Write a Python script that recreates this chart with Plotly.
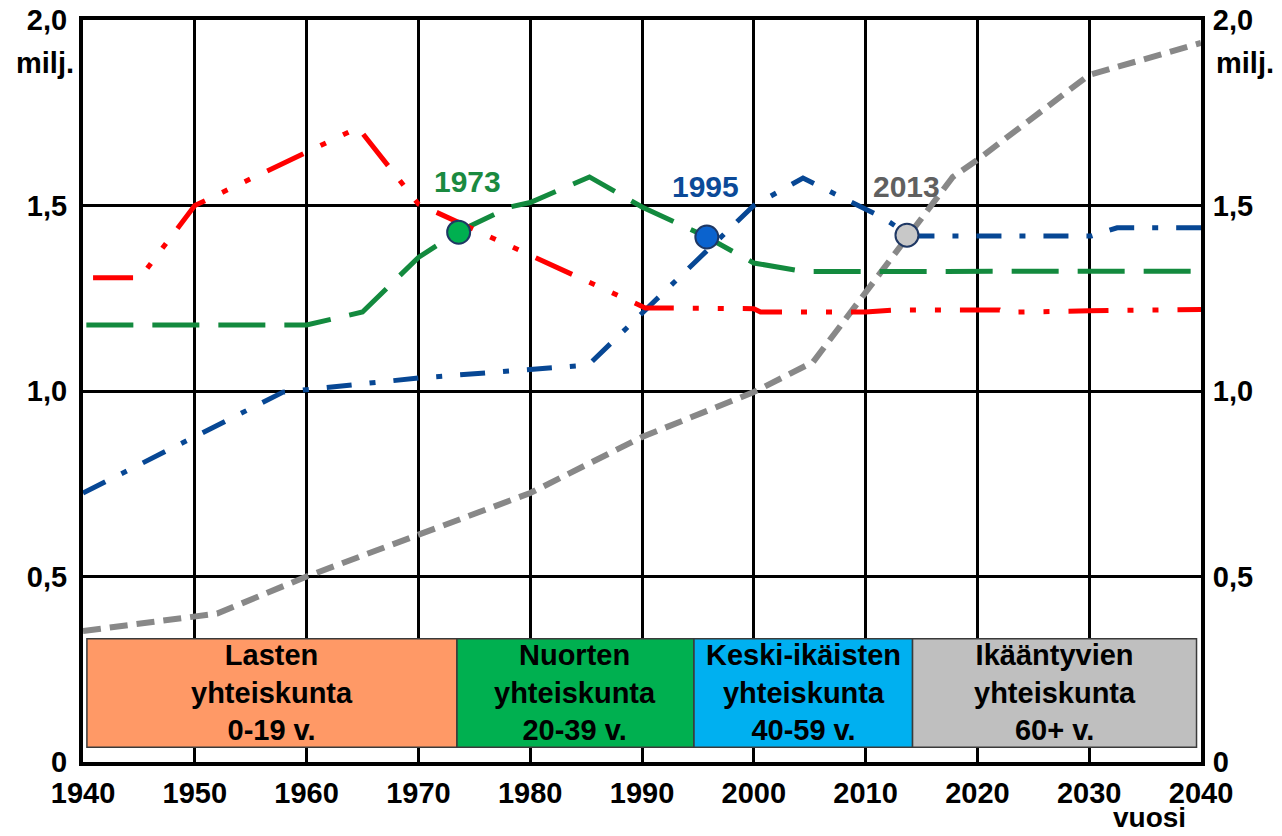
import plotly.graph_objects as go

# ---- data ----
years_red = [1940.9, 1945.1, 1950, 1964.6, 1970, 1973.7, 1990.3, 2000, 2000.6, 2010, 2012.5, 2022, 2022.5, 2030, 2040]
vals_red = [1.305, 1.305, 1.50, 1.71, 1.504, 1.453, 1.224, 1.222, 1.213, 1.213, 1.218, 1.218, 1.212, 1.216, 1.22]

years_green = [1940.3, 1960, 1965, 1970, 1973.6, 1978.2, 1980, 1985.3, 1990, 1995.8, 2000, 2004.5, 2040]
vals_green = [1.178, 1.178, 1.213, 1.36, 1.43, 1.496, 1.508, 1.577, 1.496, 1.415, 1.345, 1.322, 1.323]

years_blue = [1940, 1957.9, 1970, 1985.2, 2000, 2004.4, 2011.6, 2014, 2030.2, 2032.5, 2040]
vals_blue = [0.725, 0.997, 1.035, 1.07, 1.50, 1.574, 1.466, 1.418, 1.418, 1.44, 1.44]

years_gray = [1940, 1950, 1952, 1960, 1970, 1980, 1990, 2000, 2005.3, 2017.8, 2020, 2030, 2040]
vals_gray = [0.353, 0.39, 0.40, 0.50, 0.612, 0.725, 0.876, 0.997, 1.078, 1.577, 1.623, 1.852, 1.938]

marker_years = [1973.6, 1995.8, 2013.7]
marker_vals = [1.428, 1.415, 1.42]
marker_labels = ["1973", "1995", "2013"]
label_years = [1974.4, 1995.7, 2013.7]
label_vals = [1.565, 1.551, 1.551]

box_edges = [1940.35, 1973.45, 1994.65, 2014.2, 2039.6]
box_texts = ["Lasten<br>yhteiskunta<br>0-19 v.",
             "Nuorten<br>yhteiskunta<br>20-39 v.",
             "Keski-ikäisten<br>yhteiskunta<br>40-59 v.",
             "Ikääntyvien<br>yhteiskunta<br>60+ v."]
box_bottom, box_top = 0.04, 0.332

x_ticks = list(range(1940, 2041, 10))
y_ticks = [0, 0.5, 1.0, 1.5, 2.0]
y_ticktext = ["0", "0,5", "1,0", "1,5", "2,0"]

# ---- styling ----
FONT = "Liberation Sans, Arial, sans-serif"
RED = "#FF0000"
GREEN = "#138A3E"
BLUE = "#074794"
GRAY = "#888888"
box_colors = ["#FF9966", "#00B050", "#00B0F0", "#BFBFBF"]
marker_fills = ["#00B050", "#0B63CE", "#C8C8C8"]
label_colors = ["#1A8A40", "#0B4A98", "#606060"]

fig = go.Figure()

fig.add_trace(go.Scatter(x=years_gray, y=vals_gray, mode="lines",
                         line=dict(color=GRAY, width=6, dash="18px,9px"), hoverinfo="skip"))
fig.add_trace(go.Scatter(x=years_blue, y=vals_blue, mode="lines",
                         line=dict(color=BLUE, width=5, dash="25px,18px,6px,18px"), hoverinfo="skip"))
fig.add_trace(go.Scatter(x=years_green, y=vals_green, mode="lines",
                         line=dict(color=GREEN, width=5, dash="47px,19px"), hoverinfo="skip"))
fig.add_trace(go.Scatter(x=years_red, y=vals_red, mode="lines",
                         line=dict(color=RED, width=5, dash="40px,19px,6px,19px,6px,19px"), hoverinfo="skip"))

fig.add_trace(go.Scatter(x=marker_years, y=marker_vals, mode="markers",
                         marker=dict(size=23, color=marker_fills,
                                     line=dict(color="#1F3864", width=2)), hoverinfo="skip"))

# invisible trace for the right-hand axis
fig.add_trace(go.Scatter(x=[1940], y=[0], yaxis="y2", mode="markers",
                         marker=dict(opacity=0), hoverinfo="skip"))

shapes = []
annotations = []
for i in range(4):
    shapes.append(dict(type="rect", xref="x", yref="y",
                       x0=box_edges[i], x1=box_edges[i + 1], y0=box_bottom, y1=box_top,
                       fillcolor=box_colors[i], line=dict(color="#3A3A3A", width=1.5),
                       layer="above"))
    annotations.append(dict(x=(box_edges[i] + box_edges[i + 1]) / 2, y=(box_bottom + box_top) / 2,
                            xref="x", yref="y", text="<b>%s</b>" % box_texts[i], showarrow=False,
                            font=dict(family=FONT, size=29, color="black"),
                            xanchor="center", yanchor="middle", align="center"))

for i in range(3):
    annotations.append(dict(x=label_years[i], y=label_vals[i], xref="x", yref="y",
                            text="<b>%s</b>" % marker_labels[i], showarrow=False,
                            font=dict(family=FONT, size=30, color=label_colors[i]),
                            xanchor="center", yanchor="middle"))

annotations.append(dict(x=-0.006, y=1.884, xref="paper", yref="y", text="<b>milj.</b>",
                        showarrow=False, xanchor="right", yanchor="middle",
                        font=dict(family=FONT, size=29, color="black")))
annotations.append(dict(x=1.0115, y=1.884, xref="paper", yref="y", text="<b>milj.</b>",
                        showarrow=False, xanchor="left", yanchor="middle",
                        font=dict(family=FONT, size=29, color="black")))
annotations.append(dict(x=0.954, y=-0.099, xref="paper", yref="paper", text="<b>vuosi</b>",
                        showarrow=False, xanchor="center", yanchor="bottom",
                        font=dict(family=FONT, size=28, color="black")))

tickfont = dict(family=FONT, size=29, color="black")

# the page body adds an 8px offset; figure sized to fit the 1282x836 window
fig.update_layout(
    width=1274, height=828,
    margin=dict(l=75, r=81, t=12, b=74, autoexpand=False),
    paper_bgcolor="white", plot_bgcolor="white",
    showlegend=False,
    shapes=shapes, annotations=annotations,
    xaxis=dict(range=[1940, 2040], tickvals=x_ticks, automargin=False,
               ticktext=["<b>%d</b>" % v for v in x_ticks], ticklabeloverflow="allow",
               tickfont=tickfont, showgrid=True, gridcolor="black", gridwidth=3,
               zeroline=False, showline=True, linecolor="black", linewidth=4, mirror=True,
               ticks="outside", ticklen=2, tickcolor="rgba(0,0,0,0)", fixedrange=True),
    yaxis=dict(range=[0, 2], tickvals=y_ticks, automargin=False,
               ticktext=["<b>%s</b>" % t for t in y_ticktext], ticklabeloverflow="allow",
               tickfont=tickfont, showgrid=True, gridcolor="black", gridwidth=3,
               zeroline=False, showline=True, linecolor="black", linewidth=4, mirror=True,
               ticks="outside", ticklen=6, tickcolor="rgba(0,0,0,0)", fixedrange=True),
    yaxis2=dict(range=[0, 2], tickvals=y_ticks, automargin=False,
                ticktext=["<b>%s</b>" % t for t in y_ticktext], ticklabeloverflow="allow",
                tickfont=tickfont, overlaying="y", side="right", showgrid=False,
                zeroline=False, showline=False,
                ticks="outside", ticklen=5, tickcolor="rgba(0,0,0,0)", fixedrange=True),
)

fig.write_html("out.html")
